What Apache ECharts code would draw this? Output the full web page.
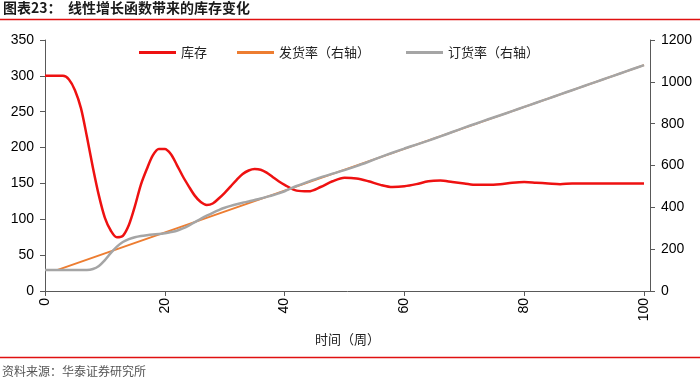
<!DOCTYPE html>
<html>
<head>
<meta charset="utf-8">
<script src="https://cdn.jsdelivr.net/npm/echarts@6/dist/echarts.min.js"></script>
<style>
html,body{margin:0;padding:0;background:#fff;}
#chart{width:700px;height:383px;}
</style>
</head>
<body>
<div id="chart"></div>
<script>
// ---- data ----
const invWeeks = [0,1,2,3,4,5,6,7,8,9,10,11,12,13,14,15,16,17,18,19,20,21,22,23,24,25,26,27,28,29,30,31,32,33,34,35,36,37,38,39,40,42,44,46,48,50,52,54,56,58,60,62,64,66,68,70,72,74,76,78,80,82,84,86,88,90,92,94,96,98,100];
const invValues = [300,300,300,300,295,280,255,215,172,133,102,84,75,77,92,118,148,170,189,198,198,191,176,160,146,133,124,120,122,129,137,146,155,163,168,170,169,165,159,153,148,140,139,145,153,158,157,153,148,145,146,149,153,154,152,150,148,148,149,151,152,151,150,149,150,150,150,150,150,150,150];

const shipWeeks = [0,2,100];
const shipValues = [100,100,1080];

const orderWeeks = [0,1,2,3,4,5,6,7,8,9,10,11,12,13,14,15,16,17,18,19,20,21,22,23,24,25,26,27,28,29,30,31,32,33,34,35,36,37,38,39,40,42,44,46,48,50,52,54,56,58,60,62,64,66,68,70,72,74,76,78,80,82,84,86,88,90,92,94,96,98,100];
const orderValues = [100,100,100,100,100,100,100,100,105,120,148,182,212,234,248,257,263,267,270,272,276,282,288,299,313,329,345,360,374,387,398,407,415,422,428,435,442,450,458,467,477,502,523,543,561,578,597,618,640,661,681,700,719,739,760,781,801,821,840,860,880,900,920,940,960,980,1000,1020,1040,1060,1080];

const xTicks = [0,20,40,60,80,100];
const leftTicks = [0,50,100,150,200,250,300,350];
const rightTicks = [0,200,400,600,800,1000,1200];

const seriesNames = ['库存','发货率（右轴）','订货率（右轴）'];
const titleText = '图表23：  线性增长函数带来的库存变化';
const xName = '时间（周）';
const sourceText = '资料来源：华泰证券研究所';

function pairs(xs, ys){ return xs.map((x,i)=>[x, ys[i]]); }

const chart = echarts.init(document.getElementById('chart'), null, {renderer:'canvas'});
const axisCol = '#595959';
const labelFont = {color:'#000', fontSize:14, fontFamily:'Liberation Sans, Arial, sans-serif'};
const cjk = '"Noto Sans CJK SC", sans-serif';

const legendBase = {
  top: 41, itemWidth: 37, itemHeight: 3, itemGap: 0, icon: 'rect',
  textStyle: {fontSize: 13, color: '#222', fontFamily: cjk}
};

chart.setOption({
  animation: false,
  backgroundColor: '#fff',
  grid: {left: 45, right: 50, top: 40, bottom: 92, containLabel: false},
  legend: [
    Object.assign({}, legendBase, {left: 134, data: [seriesNames[0]]}),
    Object.assign({}, legendBase, {left: 232, data: [seriesNames[1]]}),
    Object.assign({}, legendBase, {left: 401, data: [seriesNames[2]]})
  ],
  xAxis: {
    type: 'value', min: 0, max: 101, interval: 20,
    name: xName, nameLocation: 'middle', nameGap: 42,
    nameTextStyle: {fontSize: 13, color: '#222', fontFamily: cjk},
    axisLine: {show: true, onZero: false, lineStyle: {color: axisCol, width: 1}},
    axisTick: {show: true, inside: false, length: 5, lineStyle: {color: axisCol}},
    axisLabel: Object.assign({rotate: 90, margin: 7, showMaxLabel: false,
      formatter: v => xTicks.indexOf(v) >= 0 ? String(v) : ''}, labelFont),
    splitLine: {show: false}
  },
  yAxis: [
    {
      type: 'value', min: 0, max: 350, interval: 50, position: 'left',
      axisLine: {show: true, lineStyle: {color: axisCol}},
      axisTick: {show: true, length: 5, lineStyle: {color: axisCol}},
      axisLabel: Object.assign({margin: 11, formatter: v => leftTicks.indexOf(v) >= 0 ? String(v) : ''}, labelFont),
      splitLine: {show: false}
    },
    {
      type: 'value', min: 0, max: 1200, interval: 200, position: 'right',
      axisLine: {show: true, lineStyle: {color: axisCol}},
      axisTick: {show: true, length: 5, lineStyle: {color: axisCol}},
      axisLabel: Object.assign({margin: 11, formatter: v => rightTicks.indexOf(v) >= 0 ? String(v) : ''}, labelFont),
      splitLine: {show: false}
    }
  ],
  series: [
    {
      name: seriesNames[0], type: 'line', yAxisIndex: 0, data: pairs(invWeeks, invValues),
      smooth: 0.3, showSymbol: false, z: 2,
      lineStyle: {color: '#EE1111', width: 2.5}, itemStyle: {color: '#EE1111'}
    },
    {
      name: seriesNames[1], type: 'line', yAxisIndex: 1, data: pairs(shipWeeks, shipValues),
      showSymbol: false, z: 3,
      lineStyle: {color: '#ED7D31', width: 2}, itemStyle: {color: '#ED7D31'}
    },
    {
      name: seriesNames[2], type: 'line', yAxisIndex: 1, data: pairs(orderWeeks, orderValues),
      smooth: 0.3, showSymbol: false, z: 4,
      lineStyle: {color: '#A5A5A5', width: 2.5}, itemStyle: {color: '#A5A5A5'}
    }
  ],
  graphic: [
    {type: 'text', left: 3, top: 1, style: {text: titleText, fill: '#1a1a1a', font: 'bold 14px ' + cjk}},
    {type: 'line', shape: {x1: 0, y1: 19.5, x2: 700, y2: 19.5}, style: {stroke: '#E01010', lineWidth: 1.5}},
    {type: 'line', shape: {x1: 0, y1: 357.5, x2: 700, y2: 357.5}, style: {stroke: '#E01010', lineWidth: 1.5}},
    {type: 'text', left: 2, top: 365, style: {text: sourceText, fill: '#555', font: '12px ' + cjk}}
  ]
});
</script>
</body>
</html>
